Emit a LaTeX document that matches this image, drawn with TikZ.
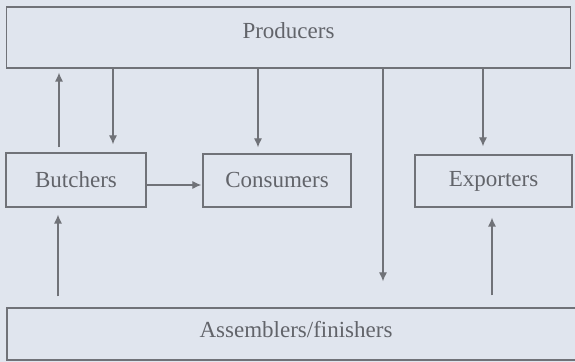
\documentclass[tikz,border=0pt]{standalone}
\usepackage{fontspec}
\setmainfont{Liberation Serif}
\usetikzlibrary{arrows.meta}
\definecolor{bg}{RGB}{224,229,238}
\definecolor{ln}{RGB}{112,114,120}
\definecolor{tx}{RGB}{98,100,106}
\begin{document}
\begin{tikzpicture}[x=0.5pt,y=-0.5pt,
  box/.style={draw=ln,line width=0.6pt,rectangle,inner sep=0pt,text=tx,font=\fontsize{11.5}{13}\selectfont},
  arr/.style={draw=ln,line width=0.6pt,-{Latex[length=4.5pt,width=4pt]}}]
\fill[bg] (0,0) rectangle (575,362);
\useasboundingbox (0,0) rectangle (575,362);
\node[box,minimum width=282pt,minimum height=30.5pt,text height=8pt,text depth=7pt] (prod) at (288.5,37.5) {Producers};
\node[box,minimum width=70pt,minimum height=27pt] (butch) at (76,180) {Butchers};
\node[box,minimum width=74pt,minimum height=26.5pt] (cons) at (277,180.5) {Consumers};
\node[box,minimum width=78.5pt,minimum height=26pt] (exp) at (493.5,181) {Exporters};
\node[box,minimum width=289pt,minimum height=26pt,text height=8pt,text depth=4pt] (ass) at (296,334) {Assemblers/finishers};
\draw[arr,shorten <=2.5pt,shorten >=2pt] (butch.north -| 59,0) -- (prod.south -| 59,0);
\draw[arr,shorten >=4pt] (prod.south -| 113,0) -- (butch.north -| 113,0);
\draw[arr,shorten >=3pt] (prod.south -| 258,0) -- (cons.north -| 258,0);
\draw[arr,shorten >=13pt] (prod.south -| 383,0) -- (ass.north -| 383,0);
\draw[arr,shorten >=4pt] (prod.south -| 483,0) -- (exp.north -| 483,0);
\draw[arr,shorten <=5.5pt,shorten >=3.5pt] (ass.north -| 58,0) -- (butch.south -| 58,0);
\draw[arr,shorten <=6pt,shorten >=5pt] (ass.north -| 492,0) -- (exp.south -| 492,0);
\draw[arr,shorten >=0.5pt] (butch.east |- 0,185) -- (cons.west |- 0,185);
\end{tikzpicture}
\end{document}
